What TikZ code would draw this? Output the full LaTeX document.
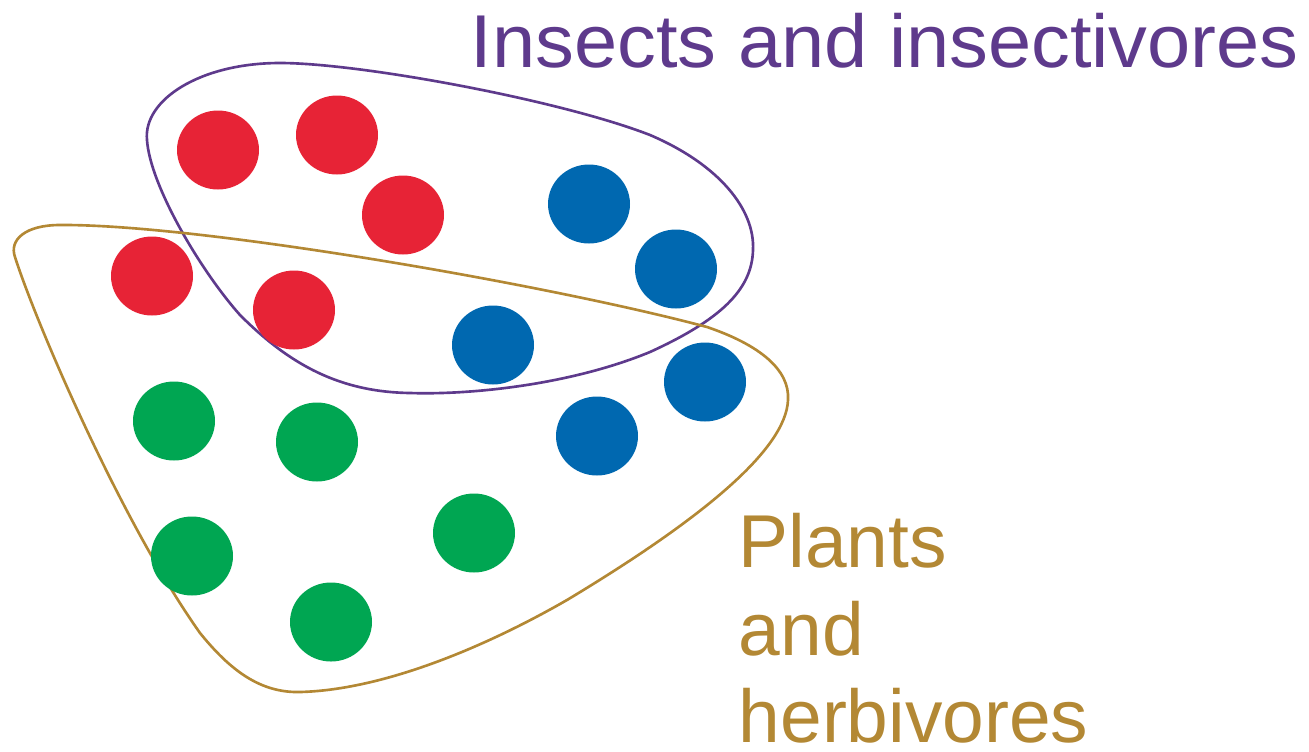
\documentclass[tikz,border=0pt]{standalone}
\usepackage{fontspec}
\setmainfont{Liberation Sans}
\definecolor{dotred}{HTML}{E72336}
\definecolor{dotblue}{HTML}{0068B0}
\definecolor{dotgreen}{HTML}{00A652}
\definecolor{grppurple}{HTML}{5E3A8C}
\definecolor{grpgold}{HTML}{B38834}
\tikzset{
  dot/.style={fill=#1, draw=none},
  outline/.style={draw=#1, line width=0.75pt, fill=none},
  lbl/.style={text=#1, anchor=base west, inner sep=0pt, font=\fontsize{21.3pt}{26pt}\selectfont}
}
\begin{document}
\begin{tikzpicture}[x=0.01cm,y=-0.01cm]
\useasboundingbox (0,0) rectangle (1309,751);
% outlines
\draw[outline=grppurple] (147,140) .. controls (143,100) and (200,63) .. (280,63)
  .. controls (360,63) and (560,100) .. (650,135)
  .. controls (720,165) and (755,210) .. (753,250)
  .. controls (752,290) and (720,320) .. (650,352)
  .. controls (570,385) and (470,395) .. (410,393)
  .. controls (340,392) and (290,365) .. (240,315)
  .. controls (200,270) and (150,185) .. (147,140) -- cycle;
\draw[outline=grpgold] (15,257) .. controls (9,240) and (25,225) .. (60,225)
  .. controls (200,224) and (550,285) .. (707,327)
  .. controls (760,345) and (790,370) .. (788,400)
  .. controls (786,450) and (700,520) .. (567,600)
  .. controls (480,650) and (380,690) .. (300,692)
  .. controls (260,693) and (230,670) .. (200,633)
  .. controls (120,520) and (35,320) .. (15,257) -- cycle;
% red dots
\foreach \n/\x/\y in {r1/218/150, r2/337/135, r3/403/215, r4/152/276, r5/294/310}
  \fill[dot=dotred] (\x,\y) ellipse [x radius=41, y radius=39.5];
% blue dots
\foreach \n/\x/\y in {b1/589/204, b2/676/269, b3/493/345, b4/705/382, b5/597/436}
  \fill[dot=dotblue] (\x,\y) ellipse [x radius=41, y radius=39.5];
% green dots
\foreach \n/\x/\y in {g1/174/421, g2/317/442, g3/474/533, g4/192/556, g5/331/622}
  \fill[dot=dotgreen] (\x,\y) ellipse [x radius=41, y radius=39.5];
% labels
\node[lbl=grppurple] (insects) at (470,67) {\scalebox{1.036}[1]{Insects and insectivores}};
\node[lbl=grpgold] (plantsA) at (738,567) {Plants};
\node[lbl=grpgold] (plantsB) at (738,655) {and};
\node[lbl=grpgold] (plantsC) at (738,742) {herbivores};
\end{tikzpicture}
\end{document}
